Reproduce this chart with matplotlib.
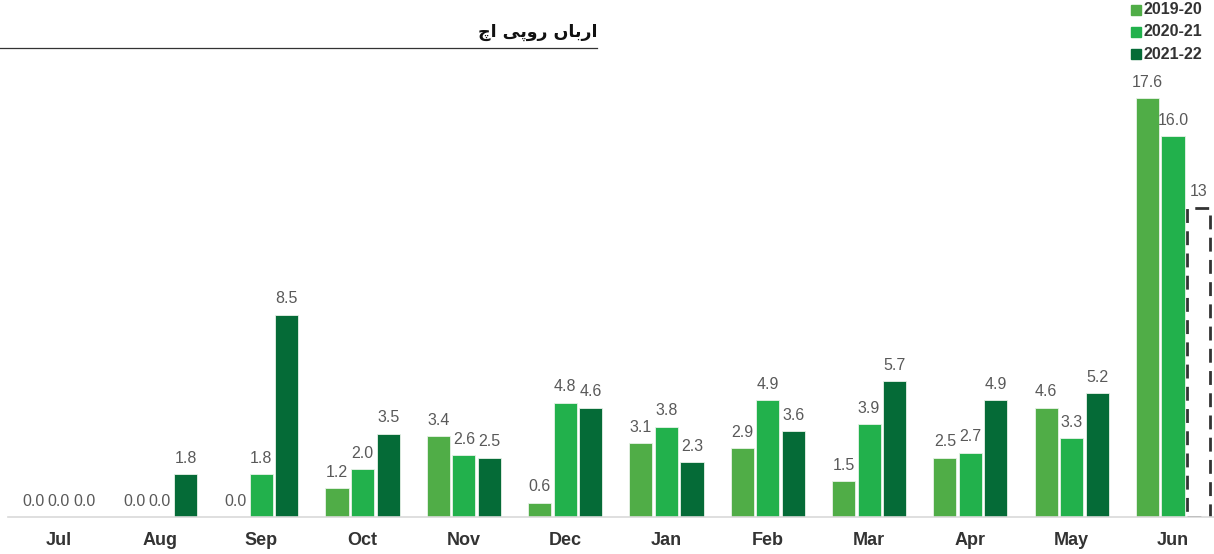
import numpy as np
import matplotlib
matplotlib.use("Agg")
import matplotlib.pyplot as plt
from matplotlib.patches import Rectangle

plt.rcParams["font.family"] = ["Liberation Sans", "DejaVu Sans"]

months = ["Jul", "Aug", "Sep", "Oct", "Nov", "Dec", "Jan", "Feb", "Mar", "Apr", "May", "Jun"]
series_names = ["2019-20", "2020-21", "2021-22"]
fy20 = [0.0, 0.0, 0.0, 1.2, 3.4, 0.6, 3.1, 2.9, 1.5, 2.5, 4.6, 17.6]
fy21 = [0.0, 0.0, 1.8, 2.0, 2.6, 4.8, 3.8, 4.9, 3.9, 2.7, 3.3, 16.0]
fy22 = [0.0, 1.8, 8.5, 3.5, 2.5, 4.6, 2.3, 3.6, 5.7, 4.9, 5.2]   # June not yet in
fy22_jun_target = 13
colors = ["#50ad47", "#22b14c", "#056b37"]

# "ارباں روپے اچ" written in visual order with presentation forms
# (matplotlib does no arabic shaping; no installed font has yeh barree,
# so the final dotless yeh stands in for it)
title_urdu = "\uFB7A\uFE8D \uFEF0\uFB58\uFEED\uFEAD \uFB9E\uFE8E\uFE91\uFEAD\uFE8D"

fig = plt.figure(figsize=(12.14, 5.54), dpi=100)
ax = fig.add_axes([8 / 1214, 37 / 554, 1206 / 1214, 476 / 554])

x = np.arange(len(months))
step = 0.252
w = 0.228
data = [fy20, fy21, fy22]
for i, vals in enumerate(data):
    xs = x[:len(vals)] + (i - 1) * step
    ax.bar(xs, vals, width=w, color=colors[i], edgecolor="#e8f2e8", linewidth=0.6)
    for xi, v in zip(xs, vals):
        ax.text(xi, v + 0.35, f"{v:.1f}", ha="center", va="bottom",
                fontsize=11.5, color="#595959")

# dashed placeholder for June 2021-22
xj = x[-1] + step
ax.add_patch(Rectangle((xj - w / 2, 0), w, fy22_jun_target, fill=False,
                       edgecolor="#333333", linestyle=(0, (5, 3)), linewidth=2))
ax.text(xj, fy22_jun_target + 0.35, f"{fy22_jun_target}", ha="center", va="bottom",
        fontsize=11.5, color="#595959")

ax.set_xlim(-0.5, 11.405)
ax.set_ylim(0, 20)
ax.set_yticks([])
ax.set_xticks(x)
ax.set_xticklabels(months, fontsize=13, fontweight="bold", color="#333333")
ax.tick_params(axis="x", length=0, pad=11)
for s in ["top", "right", "left"]:
    ax.spines[s].set_visible(False)
ax.spines["bottom"].set_color("#d9d9d9")
ax.spines["bottom"].set_linewidth(1.2)

# legend (manual, top right)
for i, name in enumerate(series_names):
    y = 1 - (10 + i * 22) / 554
    fig.patches.append(Rectangle((1131 / 1214, y - 5 / 554), 10 / 1214, 10 / 554,
                                 transform=fig.transFigure, color=colors[i]))
    fig.text(1143 / 1214, y, name, fontsize=11.5, fontweight="bold",
             color="#333333", va="center", ha="left")

# unit title with rule below
fig.text(598 / 1214, 1 - 32 / 554, title_urdu, fontsize=12.5, fontweight="bold",
         ha="right", va="center", color="#111111", family=["DejaVu Sans"])
fig.add_artist(plt.Line2D([0, 597 / 1214], [1 - 48 / 554] * 2,
                          transform=fig.transFigure, color="#333333", linewidth=0.9))

fig.savefig("out.png", dpi=100)
